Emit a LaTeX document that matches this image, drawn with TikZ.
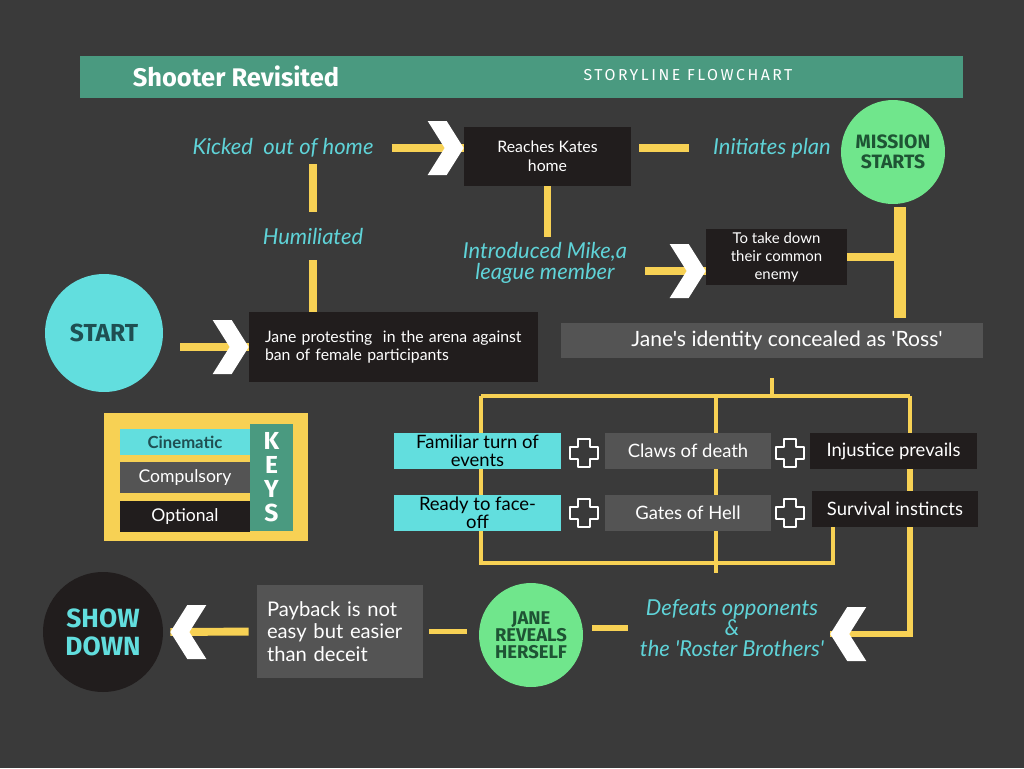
\documentclass[tikz,border=0pt]{standalone}
\usepackage{fontspec}
\setmainfont{Lato}[Ligatures=TeXOff]
\newfontfamily\headfont{Fira Sans}
\usepackage{xcolor}
\definecolor{canvas}{HTML}{3A3A3A}
\definecolor{bar}{HTML}{4A9A80}
\definecolor{aqua}{HTML}{62DEDE}
\definecolor{mint}{HTML}{70E68C}
\definecolor{sun}{HTML}{F7D154}
\definecolor{ink}{HTML}{211D1D}
\definecolor{slate}{HTML}{545454}
\definecolor{cue}{HTML}{5FD3D8}
\definecolor{deepteal}{HTML}{1F4F52}
\definecolor{deepgreen}{HTML}{1E5434}
\usepackage{tikz}
\usetikzlibrary{backgrounds}

\tikzset{
  chev/.pic={\fill[white] (0,0) -- (-17,-27) -- (-36,-27) -- (-19,0) -- (-36,27) -- (-17,27) -- cycle;},
  plus/.pic={\filldraw[fill=canvas, draw=white, line width=1.6pt, line join=round]
    (-6,-14) -- (6,-14) -- (6,-6) -- (14,-6) -- (14,6) -- (6,6) -- (6,14) -- (-6,14)
    -- (-6,6) -- (-14,6) -- (-14,-6) -- (-6,-6) -- cycle;},
  link/.style={draw=sun, line width=4.5pt},
  trunk/.style={draw=sun, line width=6.5pt},
  fork/.style={draw=sun, line width=2.3pt},
  note/.style={text=cue, align=center, font=\itshape\fontsize{12.5}{11.5}\selectfont},
  box/.style={fill=ink, text=white, inner sep=0pt, align=center, font=\fontsize{9}{10.8}\selectfont},
  card/.style={inner sep=0pt, align=center, minimum width=3.34cm, minimum height=0.72cm, font=\fontsize{10.5}{10.2}\selectfont},
  disc/.style={circle, inner sep=0pt, align=center},
  keyrow/.style={inner sep=0pt, minimum width=2.6cm, minimum height=0.62cm, font=\fontsize{10}{12}\selectfont}
}

\begin{document}
\begin{tikzpicture}[x=0.02cm, y=-0.02cm]
  \begin{pgfonlayer}{background}
    \fill[canvas] (0,0) rectangle (1024,768);
  \end{pgfonlayer}
  \useasboundingbox (0,0) rectangle (1024,768);

  \fill[bar] (80,56) rectangle (963,98);
  \node[text=white, font=\headfont\bfseries\fontsize{14.5}{16}\selectfont] (name) at (236,76) {Shooter Revisited};
  \node[text=white, font={\headfont\addfontfeature{LetterSpace=16}\fontsize{9}{10}\selectfont}] (kind) at (688,75) {STORYLINE FLOWCHART};

  \node[disc, fill=aqua, minimum size=2.36cm, text=deepteal, font=\headfont\bfseries\fontsize{14}{16}\selectfont] (start) at (104,333) {START};
  \node[box, minimum width=5.78cm, minimum height=1.4cm, text width=5.14cm, align=left, font=\fontsize{9}{10.2}\selectfont] (protest) at (393.5,347) {Jane protesting\ \ in the arena against\\ban of female participants};
  \node[note] (humil) at (313,236) {Humiliated};
  \node[note] (kicked) at (283,148) {Kicked\ \ out of home};
  \node[box, minimum width=3.34cm, minimum height=1.18cm] (reaches) at (547.5,156.5) {Reaches Kates\\home};
  \node[note] (plan) at (772,148) {Initiates plan};
  \node[disc, fill=mint, minimum size=2.08cm, text=deepgreen, font=\headfont\bfseries\fontsize{11}{11.5}\selectfont] (mission) at (893,152) {MISSION\\STARTS};
  \node[note] (mike) at (545,263) {Introduced Mike,a\\league member};
  \node[box, minimum width=2.82cm, minimum height=1.12cm, font=\fontsize{8.5}{10.2}\selectfont] (enemy) at (776.5,257) {To take down\\their common\\enemy};
  \node[box, fill=slate, minimum width=8.44cm, minimum height=0.7cm, font=\fontsize{12}{13}\selectfont] (ross) at (772,340.5) {\hspace*{0.6cm}Jane's identity concealed as 'Ross'};

  \node[card, fill=aqua, text=black] (familiar) at (477.5,451) {Familiar turn of\\events};
  \node[card, fill=slate, text=white] (claws) at (688,451) {Claws of death};
  \node[card, fill=ink, text=white] (injustice) at (893.5,451) {Injustice prevails};
  \node[card, fill=aqua, text=black] (ready) at (477.5,513) {Ready to face-\\off};
  \node[card, fill=slate, text=white] (gates) at (688,513) {Gates of Hell};
  \node[card, fill=ink, text=white] (survival) at (895,508.5) {Survival instincts};
  \pic at (584,453) {plus};
  \pic at (790,453) {plus};
  \pic at (584,513) {plus};
  \pic at (790,513) {plus};

  \fill[sun] (104,413) rectangle (308,541);
  \node[keyrow, fill=aqua, minimum height=0.52cm, text=deepteal, font=\bfseries\fontsize{9.5}{11}\selectfont] (cine) at (185,442) {Cinematic};
  \node[keyrow, fill=slate, text=white] (compul) at (185,477.5) {Compulsory};
  \node[keyrow, fill=ink, text=white] (option) at (185,516.5) {Optional};
  \node[fill=bar, minimum width=0.86cm, minimum height=2.14cm, inner sep=0pt, text=white, align=center, font=\headfont\bfseries\fontsize{14}{13.6}\selectfont] (keys) at (271.5,477.5) {K\\E\\Y\\S};

  \node[box, fill=slate, minimum width=3.32cm, minimum height=1.86cm, text width=2.92cm, align=left, font=\fontsize{11.5}{12.8}\selectfont] (payback) at (340,631.5) {Payback is not\\easy but easier\\than deceit};
  \node[disc, fill=mint, minimum size=2.08cm, text=deepgreen, font=\headfont\bfseries\fontsize{10.5}{9.8}\selectfont] (jane) at (531,635) {JANE\\REVEALS\\HERSELF};
  \node[note] (defeats) at (732,628) {Defeats opponents\\\&\\the 'Roster Brothers'};
  \node[disc, fill=ink, minimum size=2.4cm, text=aqua, font=\headfont\bfseries\fontsize{15}{16}\selectfont] (showdown) at (103,632) {SHOW\\DOWN};

  \draw[link, shorten <=0.34cm] (start.east |- protest.west) -- (protest.west);
  \pic at (protest.west) {chev};
  \draw[link, shorten >=0.2cm] (protest.north -| humil) -- (humil.south);
  \draw[link, shorten <=0.2cm] (humil.north) -- (humil |- kicked.south);
  \draw[link, shorten <=0.24cm] (kicked.east) -- (kicked.east -| reaches.west);
  \pic at (kicked.east -| reaches.west) {chev};
  \draw[link, line width=4pt, shorten <=0.16cm, shorten >=0.36cm] (reaches.east |- plan.west) -- (plan.west);
  \draw[link] (reaches.south) -- (reaches.south |- mike.north);
  \coordinate (enemyin) at ([yshift=-0.28cm]enemy.west);
  \draw[link, shorten <=0.24cm] (mike.east |- enemyin) -- (enemyin);
  \pic at (enemyin) {chev};
  \coordinate (spine) at ([xshift=0.14cm, yshift=-0.06cm]mission.south);
  \draw[trunk, shorten >=0.1cm] (spine) -- (spine |- ross.north);
  \draw[link] (enemy.east) -- (spine |- enemy.east);

  \coordinate (defin) at ([yshift=-0.12cm]defeats.east);
  \begin{pgfonlayer}{background}
    \coordinate (forkL) at (481,396);
    \coordinate (forkM) at (716,396);
    \coordinate (forkR) at (910,396);
    \coordinate (botR) at (833,563);
    \draw[fork, shorten <=0.4cm] (ross.south) -- (ross.south |- forkL);
    \draw[fork] (forkL) -- (forkR);
    \draw[fork] (forkL) -- (forkL |- botR) -- (botR) -- (botR |- survival.south);
    \draw[fork, shorten >=0.42cm] (forkM) -- (forkM |- defeats.north);
    \draw[fork] (forkR) -- (forkR |- injustice.north);
    \draw[link, line width=3.5pt] (forkR |- injustice.south) -- (forkR |- defin) -- (defin);
  \end{pgfonlayer}
  \pic[rotate=180] at (defin) {chev};

  \draw[link, line width=3pt, shorten <=0.18cm, shorten >=0.12cm] (jane.east |- defeats.west) -- (defeats.west);
  \draw[link, line width=3pt, shorten <=0.12cm, shorten >=0.24cm] (payback.east) -- (payback.east -| jane.west);
  \coordinate (showin) at ([xshift=0.14cm]showdown.east);
  \draw[link, shorten <=0.16cm] (payback.west) -- (showin);
  \pic[rotate=180] at (showin) {chev};
\end{tikzpicture}
\end{document}
